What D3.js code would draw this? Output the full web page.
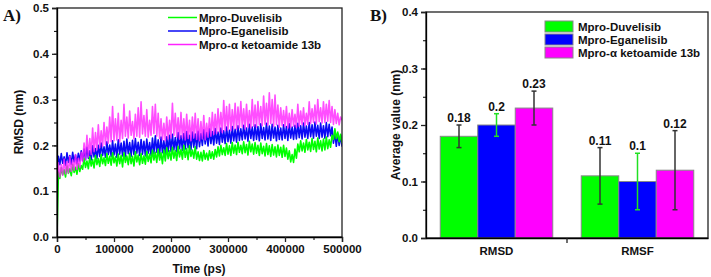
<!DOCTYPE html>
<html>
<head>
<meta charset="utf-8">
<script src="https://cdn.jsdelivr.net/npm/d3@7"></script>
<style>
  body { margin: 0; background: #fff; }
  svg text { font-family: "Liberation Sans", Arial, sans-serif; font-weight: bold; fill: #111; }
</style>
</head>
<body>
<svg id="chart" width="711" height="277"></svg>
<script>
// ---- data ----
const seriesNames = ["Mpro-Duvelisib", "Mpro-Eganelisib", "Mpro-\u03b1 ketoamide 13b"];
const seriesColors = ["#00ff00", "#0a0af5", "#ff22ff"];

// RMSD (nm) read every 2500 ps, 0 .. 500000 ps
const timeStep = 2500;
const rmsdDuvelisib = [
  0.0, 0.142, 0.128, 0.151, 0.136, 0.147, 0.131, 0.155, 0.139, 0.149,
  0.134, 0.158, 0.141, 0.152, 0.137, 0.16, 0.143, 0.156, 0.148, 0.172,
  0.152, 0.166, 0.149, 0.175, 0.155, 0.169, 0.151, 0.178, 0.158, 0.171,
  0.154, 0.18, 0.16, 0.173, 0.156, 0.182, 0.161, 0.176, 0.157, 0.184,
  0.162, 0.175, 0.155, 0.181, 0.16, 0.178, 0.153, 0.184, 0.163, 0.177,
  0.158, 0.183, 0.16, 0.176, 0.155, 0.186, 0.164, 0.179, 0.158, 0.182,
  0.161, 0.177, 0.159, 0.187, 0.165, 0.181, 0.162, 0.19, 0.168, 0.185,
  0.163, 0.192, 0.168, 0.184, 0.16, 0.19, 0.166, 0.195, 0.171, 0.188,
  0.168, 0.196, 0.172, 0.189, 0.167, 0.198, 0.175, 0.191, 0.17, 0.2,
  0.174, 0.193, 0.169, 0.199, 0.176, 0.19, 0.172, 0.197, 0.17, 0.186,
  0.167, 0.185, 0.166, 0.189, 0.17, 0.183, 0.168, 0.188, 0.172, 0.186,
  0.17, 0.191, 0.175, 0.197, 0.177, 0.2, 0.18, 0.195, 0.178, 0.204,
  0.181, 0.199, 0.178, 0.206, 0.183, 0.201, 0.18, 0.207, 0.185, 0.2,
  0.182, 0.208, 0.184, 0.202, 0.179, 0.209, 0.186, 0.203, 0.181, 0.206,
  0.183, 0.2, 0.178, 0.205, 0.182, 0.198, 0.177, 0.204, 0.18, 0.199,
  0.176, 0.202, 0.179, 0.197, 0.175, 0.201, 0.178, 0.196, 0.174, 0.2,
  0.176, 0.194, 0.17, 0.188, 0.164, 0.18, 0.163, 0.192, 0.172, 0.203,
  0.186, 0.21, 0.188, 0.205, 0.185, 0.213, 0.19, 0.207, 0.187, 0.215,
  0.191, 0.209, 0.186, 0.216, 0.192, 0.21, 0.188, 0.214, 0.19, 0.218,
  0.193, 0.212, 0.196, 0.222, 0.213, 0.236, 0.215, 0.229, 0.208, 0.224,
  0.205
];
const rmsdEganelisib = [
  0.15, 0.176, 0.158, 0.182, 0.161, 0.175, 0.157, 0.184, 0.163, 0.178,
  0.159, 0.185, 0.164, 0.179, 0.16, 0.183, 0.166, 0.188, 0.167, 0.192,
  0.169, 0.196, 0.172, 0.188, 0.168, 0.199, 0.175, 0.193, 0.171, 0.2,
  0.176, 0.205, 0.178, 0.197, 0.174, 0.208, 0.18, 0.201, 0.176, 0.21,
  0.179, 0.203, 0.174, 0.212, 0.181, 0.205, 0.177, 0.209, 0.175, 0.214,
  0.182, 0.206, 0.176, 0.211, 0.18, 0.215, 0.183, 0.207, 0.178, 0.213,
  0.181, 0.209, 0.177, 0.214, 0.183, 0.206, 0.178, 0.216, 0.182, 0.221,
  0.185, 0.212, 0.179, 0.218, 0.184, 0.21, 0.181, 0.219, 0.186, 0.222,
  0.187, 0.224, 0.19, 0.217, 0.186, 0.228, 0.193, 0.221, 0.189, 0.226,
  0.192, 0.23, 0.195, 0.222, 0.19, 0.229, 0.196, 0.225, 0.193, 0.231,
  0.197, 0.226, 0.2, 0.234, 0.203, 0.228, 0.199, 0.236, 0.204, 0.23,
  0.201, 0.237, 0.205, 0.229, 0.202, 0.238, 0.207, 0.232, 0.204, 0.24,
  0.208, 0.233, 0.205, 0.241, 0.21, 0.235, 0.207, 0.243, 0.211, 0.236,
  0.212, 0.244, 0.214, 0.238, 0.209, 0.246, 0.215, 0.24, 0.211, 0.245,
  0.213, 0.241, 0.21, 0.247, 0.215, 0.239, 0.212, 0.248, 0.214, 0.242,
  0.211, 0.246, 0.216, 0.24, 0.21, 0.244, 0.213, 0.238, 0.212, 0.245,
  0.215, 0.241, 0.211, 0.247, 0.216, 0.24, 0.213, 0.244, 0.214, 0.248,
  0.217, 0.243, 0.214, 0.249, 0.218, 0.242, 0.215, 0.25, 0.219, 0.245,
  0.216, 0.251, 0.22, 0.244, 0.215, 0.249, 0.218, 0.243, 0.216, 0.25,
  0.219, 0.246, 0.221, 0.24, 0.205, 0.228, 0.198, 0.226, 0.2, 0.222,
  0.197
];
const rmsdKetoamide = [
  0.12, 0.162, 0.131, 0.158, 0.135, 0.17, 0.138, 0.165, 0.14, 0.176,
  0.143, 0.168, 0.146, 0.18, 0.148, 0.172, 0.152, 0.185, 0.165, 0.205,
  0.17, 0.222, 0.175, 0.215, 0.18, 0.238, 0.186, 0.228, 0.19, 0.245,
  0.195, 0.232, 0.198, 0.25, 0.202, 0.24, 0.205, 0.262, 0.208, 0.285,
  0.21, 0.258, 0.212, 0.27, 0.208, 0.255, 0.215, 0.29, 0.22, 0.262,
  0.216, 0.275, 0.222, 0.252, 0.214, 0.268, 0.22, 0.282, 0.218, 0.295,
  0.225, 0.265, 0.22, 0.278, 0.218, 0.255, 0.222, 0.285, 0.226, 0.29,
  0.22, 0.27, 0.215, 0.258, 0.212, 0.248, 0.21, 0.262, 0.214, 0.255,
  0.216, 0.292, 0.222, 0.27, 0.218, 0.26, 0.214, 0.272, 0.216, 0.258,
  0.212, 0.268, 0.215, 0.255, 0.21, 0.262, 0.216, 0.27, 0.213, 0.258,
  0.21, 0.252, 0.214, 0.265, 0.212, 0.248, 0.218, 0.26, 0.22, 0.272,
  0.224, 0.268, 0.226, 0.28, 0.23, 0.272, 0.228, 0.298, 0.232, 0.285,
  0.234, 0.29, 0.232, 0.278, 0.236, 0.292, 0.235, 0.284, 0.238, 0.296,
  0.24, 0.28, 0.236, 0.29, 0.24, 0.276, 0.238, 0.3, 0.242, 0.288,
  0.24, 0.296, 0.245, 0.285, 0.243, 0.308, 0.246, 0.292, 0.244, 0.315,
  0.248, 0.3, 0.242, 0.31, 0.245, 0.288, 0.24, 0.282, 0.243, 0.276,
  0.241, 0.285, 0.238, 0.27, 0.24, 0.278, 0.242, 0.268, 0.239, 0.29,
  0.242, 0.275, 0.245, 0.282, 0.243, 0.27, 0.246, 0.295, 0.248, 0.28,
  0.25, 0.288, 0.247, 0.3, 0.252, 0.282, 0.249, 0.295, 0.25, 0.29,
  0.253, 0.298, 0.25, 0.285, 0.246, 0.278, 0.248, 0.27, 0.245, 0.262,
  0.255
];
const timeTicks = [0, 100000, 200000, 300000, 400000, 500000];
const rmsdTicks = [0.0, 0.1, 0.2, 0.3, 0.4, 0.5];

// panel B
const barCategories = ["RMSD", "RMSF"];
const avgDuvelisib = [0.18, 0.11];
const avgEganelisib = [0.2, 0.1];
const avgKetoamide = [0.23, 0.12];
const errDuvelisib = [0.02, 0.05];
const errEganelisib = [0.02, 0.05];
const errKetoamide = [0.03, 0.07];
const barColors = ["#00ff00", "#0000ff", "#ff00ff"];
const errColors = ["#333", "#22e022", "#333"];
const avgTicks = [0.0, 0.1, 0.2, 0.3, 0.4];

const svg = d3.select("#chart");
const fmt = d3.format(".1f");

// ================= Panel A =================
const xA = d3.scaleLinear().domain([0, 500000]).range([57, 342]);
const yA = d3.scaleLinear().domain([0, 0.5]).range([237, 8]);

svg.append("clipPath").attr("id", "clipA")
  .append("rect").attr("x", 57).attr("y", 8).attr("width", 285).attr("height", 229);

const line = d3.line()
  .x((d, i) => xA(i * timeStep))
  .y(d => yA(d));

const gLines = svg.append("g").attr("clip-path", "url(#clipA)");
[[rmsdEganelisib, 1], [rmsdDuvelisib, 0], [rmsdKetoamide, 2]].forEach(([s, k]) => {
  gLines.append("path")
    .datum(s)
    .attr("d", line)
    .attr("fill", "none")
    .attr("stroke", seriesColors[k])
    .attr("stroke-width", 1.6)
    .attr("stroke-linejoin", "round")
    .attr("stroke-opacity", k == 2 ? 0.8 : 1);
});

svg.append("rect")
  .attr("x", 57).attr("y", 8).attr("width", 285).attr("height", 229)
  .attr("fill", "none").attr("stroke", "#222").attr("stroke-width", 1.3);

svg.append("g")
  .attr("transform", "translate(0,237)")
  .call(d3.axisBottom(xA).tickValues(d3.range(0, 500001, 50000)).tickSize(3).tickFormat(""))
  .call(g => g.select(".domain").remove());
svg.append("g")
  .attr("class", "axA")
  .attr("transform", "translate(0,237)")
  .call(d3.axisBottom(xA).tickValues(timeTicks).tickSize(5).tickPadding(3).tickFormat(d => d))
  .call(g => g.select(".domain").attr("stroke-width", 1.3));

svg.append("g")
  .attr("transform", "translate(57,0)")
  .call(d3.axisLeft(yA).tickValues(d3.range(0, 0.51, 0.05)).tickSize(3).tickFormat(""))
  .call(g => g.select(".domain").remove());
svg.append("g")
  .attr("class", "axA")
  .attr("transform", "translate(57,0)")
  .call(d3.axisLeft(yA).tickValues(rmsdTicks).tickSize(5).tickPadding(3).tickFormat(fmt))
  .call(g => g.select(".domain").attr("stroke-width", 1.3));

svg.append("text").attr("x", 199).attr("y", 273).attr("text-anchor", "middle")
  .style("font-size", "12px").text("Time (ps)");
svg.append("text").attr("transform", "translate(23,122) rotate(-90)").attr("text-anchor", "middle")
  .style("font-size", "12px").text("RMSD (nm)");
svg.append("text").attr("x", 3).attr("y", 21)
  .style("font-family", "'Liberation Serif', serif").style("font-size", "17px").text("A)");

// legend A
const legA = svg.append("g");
seriesNames.forEach((n, i) => {
  const y = 17.5 + i * 13.5;
  legA.append("line").attr("x1", 168).attr("x2", 197).attr("y1", y).attr("y2", y)
    .attr("stroke", seriesColors[i]).attr("stroke-width", 1.5);
  legA.append("text").attr("x", 199).attr("y", y + 4).style("font-size", "11.5px").text(n);
});

// ================= Panel B =================
const xB = d3.scaleBand().domain(barCategories).range([426, 708]);
const xSub = d3.scaleBand().domain([0, 1, 2]).range([0, xB.bandwidth()]).paddingOuter(0.38);
const yB = d3.scaleLinear().domain([0, 0.4]).range([238, 12]);

const avgs = [avgDuvelisib, avgEganelisib, avgKetoamide];
const errs = [errDuvelisib, errEganelisib, errKetoamide];

const bars = [];
barCategories.forEach((c, ci) => {
  avgs.forEach((a, k) => bars.push({ c: c, k: k, v: a[ci], e: errs[k][ci] }));
});

svg.append("g").selectAll("rect")
  .data(bars)
  .enter()
  .append("rect")
  .attr("x", d => xB(d.c) + xSub(d.k))
  .attr("y", d => yB(d.v))
  .attr("width", xSub.bandwidth())
  .attr("height", d => yB(0) - yB(d.v))
  .attr("fill", d => barColors[d.k])
  .attr("stroke", "#888")
  .attr("stroke-width", 1);

const gErr = svg.append("g");
bars.forEach(d => {
  const cx = xB(d.c) + xSub(d.k) + xSub.bandwidth() / 2;
  const col = errColors[d.k];
  gErr.append("line").attr("x1", cx).attr("x2", cx).attr("y1", yB(d.v - d.e)).attr("y2", yB(d.v + d.e))
    .attr("stroke", col).attr("stroke-width", 1.5);
  [d.v - d.e, d.v + d.e].forEach(v => {
    gErr.append("line").attr("x1", cx - 2.5).attr("x2", cx + 2.5).attr("y1", yB(v)).attr("y2", yB(v))
      .attr("stroke", col).attr("stroke-width", 1.5);
  });
  gErr.append("text").attr("x", cx).attr("y", yB(d.v + d.e) - 3).attr("text-anchor", "middle")
    .style("font-size", "12px").text(d.v);
});

svg.append("rect")
  .attr("x", 426).attr("y", 12).attr("width", 282).attr("height", 226)
  .attr("fill", "none").attr("stroke", "#222").attr("stroke-width", 1.3);

svg.append("g")
  .attr("transform", "translate(426,0)")
  .call(d3.axisLeft(yB).tickValues(d3.range(0, 0.41, 0.05)).tickSize(3).tickFormat(""))
  .call(g => g.select(".domain").remove());
svg.append("g")
  .attr("class", "axA")
  .attr("transform", "translate(426,0)")
  .call(d3.axisLeft(yB).tickValues(avgTicks).tickSize(5).tickPadding(3).tickFormat(fmt))
  .call(g => g.select(".domain").attr("stroke-width", 1.3));

const gxB = svg.append("g")
  .attr("class", "axA")
  .attr("transform", "translate(0,238)")
  .call(d3.axisBottom(xB).tickSize(0).tickPadding(9))
  .call(g => g.select(".domain").attr("stroke-width", 1.3));
gxB.append("line").attr("x1", xB("RMSF")).attr("x2", xB("RMSF")).attr("y1", 0).attr("y2", 5)
  .attr("stroke", "#222").attr("stroke-width", 1.3);

svg.append("text").attr("transform", "translate(400,125) rotate(-90)").attr("text-anchor", "middle")
  .style("font-size", "12px").text("Average value (nm)");
svg.append("text").attr("x", 370).attr("y", 21)
  .style("font-family", "'Liberation Serif', serif").style("font-size", "17px").text("B)");

// legend B
const legB = svg.append("g");
seriesNames.forEach((n, i) => {
  const y = 21 + i * 13;
  legB.append("rect").attr("x", 545).attr("y", y).attr("width", 28).attr("height", 11)
    .attr("fill", barColors[i]).attr("stroke", "#888").attr("stroke-width", 1);
  legB.append("text").attr("x", 578).attr("y", y + 9.5).style("font-size", "11.5px").text(n);
});

svg.selectAll(".axA text").style("font-size", "11.5px").attr("fill", "#111");
svg.selectAll(".axA line").attr("stroke", "#222").attr("stroke-width", 1.3);
</script>
</body>
</html>
